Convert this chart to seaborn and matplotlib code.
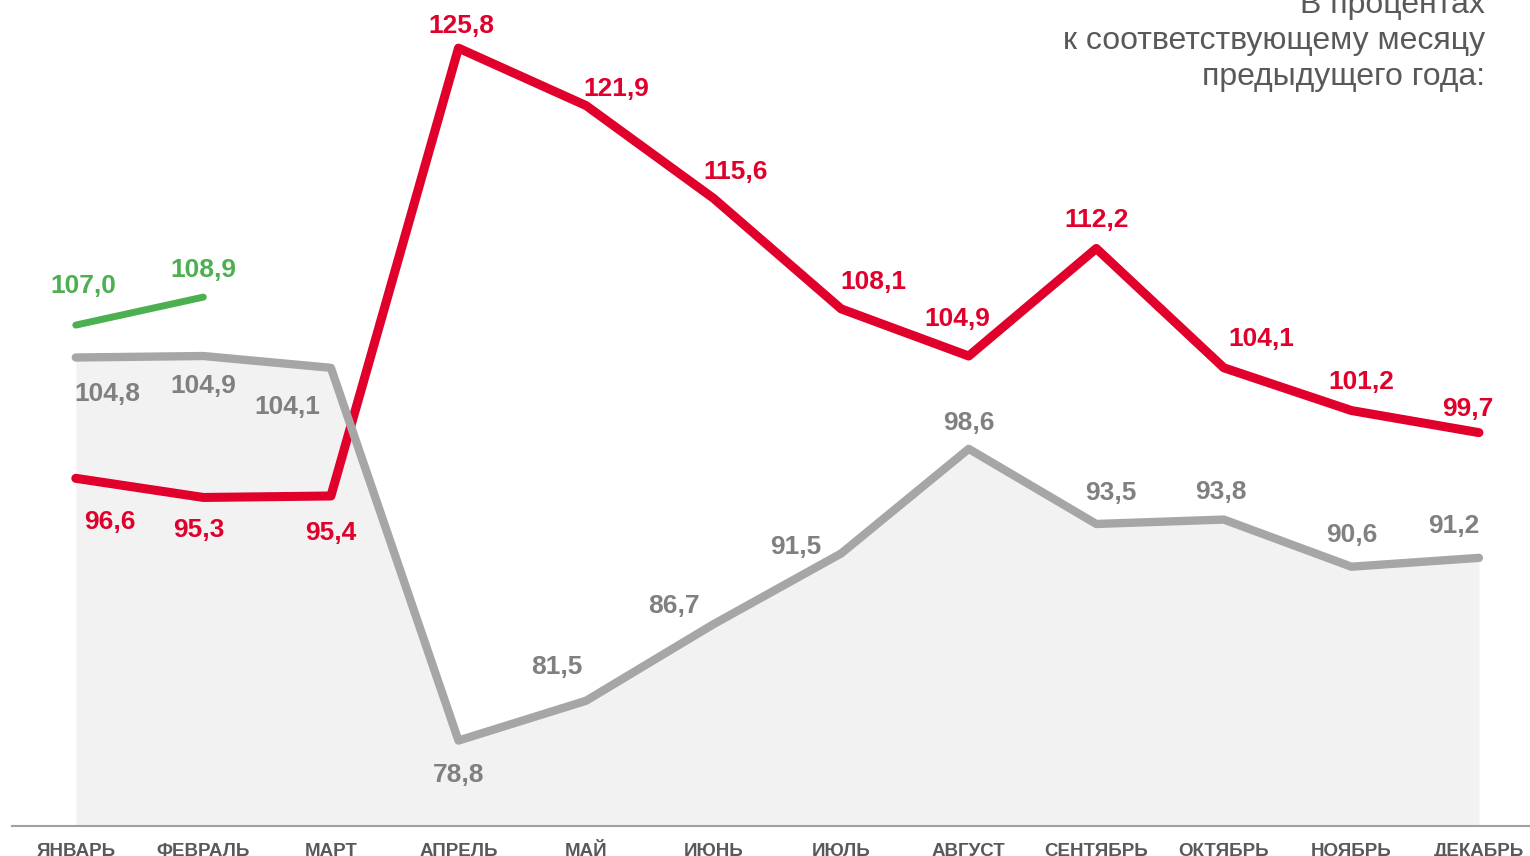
import seaborn as sns
import matplotlib.pyplot as plt
import pandas as pd

months = ["ЯНВАРЬ", "ФЕВРАЛЬ", "МАРТ", "АПРЕЛЬ", "МАЙ", "ИЮНЬ",
          "ИЮЛЬ", "АВГУСТ", "СЕНТЯБРЬ", "ОКТЯБРЬ", "НОЯБРЬ", "ДЕКАБРЬ"]
red_vals = [96.6, 95.3, 95.4, 125.8, 121.9, 115.6, 108.1, 104.9, 112.2, 104.1, 101.2, 99.7]
gray_vals = [104.8, 104.9, 104.1, 78.8, 81.5, 86.7, 91.5, 98.6, 93.5, 93.8, 90.6, 91.2]
green_vals = [107.0, 108.9]

# label offsets in pixels (dx, dy), dy positive = down
red_off = [(34, 44), (-5, 33), (0, 37), (3, -22), (30, -17), (22, -26),
           (32, -27), (-11, -37), (0, -28), (37, -29), (10, -29), (-11, -24)]
gray_off = [(32, 37), (0, 30), (-44, 39), (0, 34), (-29, -34), (-40, -18),
            (-45, -6), (0, -26), (15, -31), (-3, -28), (0, -32), (-25, -32)]
green_off = [(8, -39), (0, -27)]

RED = "#E0002B"
GRAY = "#A6A6A6"
GRAY_TXT = "#808080"
GREEN = "#4CAF50"

sns.set_theme(style="white")
plt.rcParams["font.family"] = ["Liberation Sans", "DejaVu Sans"]

x = list(range(len(months)))
df_red = pd.DataFrame({"x": x, "y": red_vals})
df_gray = pd.DataFrame({"x": x, "y": gray_vals})
df_green = pd.DataFrame({"x": x[:len(green_vals)], "y": green_vals})

fig = plt.figure(figsize=(15.3, 8.56), dpi=100)
ax = fig.add_axes([12 / 1530, 30 / 856, 1 - 12 / 1530, 1 - 30 / 856 - 15.7 / 856])

ymin = 73.0
ax.fill_between(x, gray_vals, ymin, color="#F2F2F2", lw=0, zorder=1)

line_kw = dict(solid_capstyle="round", solid_joinstyle="round")
sns.lineplot(data=df_red, x="x", y="y", ax=ax, color=RED, lw=6.5, zorder=3, **line_kw)
sns.lineplot(data=df_gray, x="x", y="y", ax=ax, color=GRAY, lw=6, zorder=4, **line_kw)
sns.lineplot(data=df_green, x="x", y="y", ax=ax, color=GREEN, lw=5, zorder=4, **line_kw)

def fmt(v):
    return f"{v:.1f}".replace(".", ",")

def put_labels(vals, offs, color):
    for i, (v, (dx, dy)) in enumerate(zip(vals, offs)):
        ax.annotate(fmt(v), (i, v), xytext=(dx * 0.72, -dy * 0.72),
                    textcoords="offset points", ha="center", va="center",
                    color=color, fontsize=19, fontweight="bold", zorder=5)

put_labels(red_vals, red_off, RED)
put_labels(gray_vals, gray_off, GRAY_TXT)
put_labels(green_vals, green_off, GREEN)

ax.set_xlim(-0.5, 11.4)
ax.set_ylim(ymin, 128)
ax.set_xticks(x)
ax.set_xticklabels(months, fontsize=13.5, fontweight="bold", color="#595959")
ax.tick_params(axis="x", length=0, pad=12)
ax.set_yticks([])
ax.set_xlabel("")
ax.set_ylabel("")
for s in ["top", "right", "left"]:
    ax.spines[s].set_visible(False)
ax.spines["bottom"].set_color("#A0A0A0")
ax.spines["bottom"].set_linewidth(1.5)
ax.spines["bottom"].set_zorder(6)

fig.text(1485 / 1530, 1 - 41 / 856, "В процентах\nк соответствующему месяцу\nпредыдущего года:",
         ha="right", va="center", fontsize=23, color="#595959", linespacing=1.28)

fig.savefig("out.png", dpi=100)
